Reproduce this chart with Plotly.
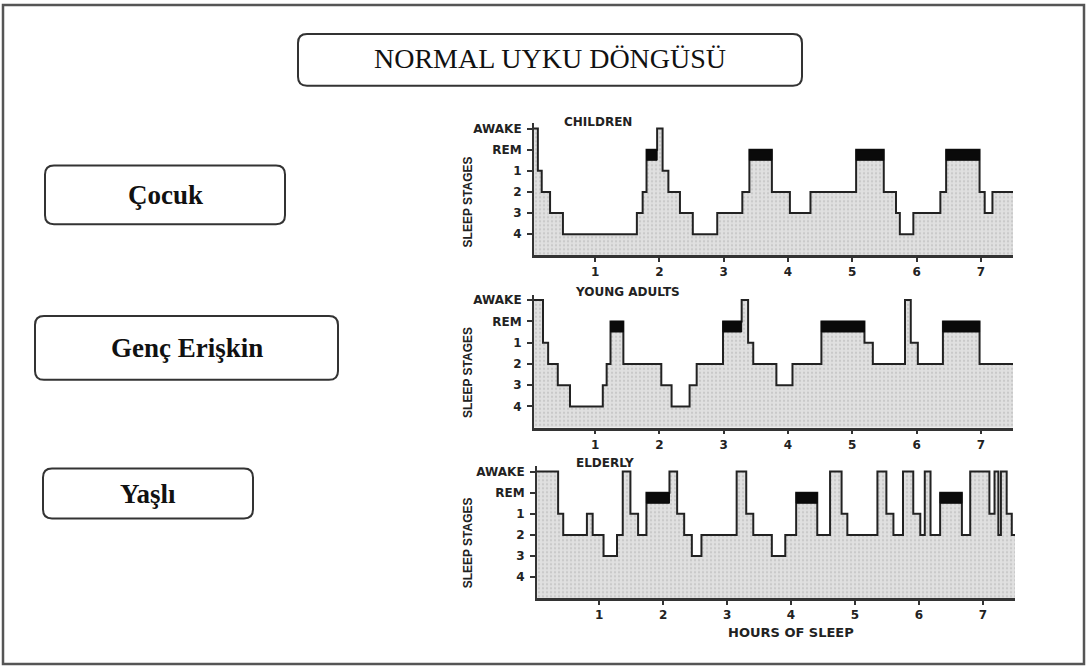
import plotly.graph_objects as go

W, H = 1087, 668

# ---------------- data ----------------
STAGE_LABELS = ["4", "3", "2", "1", "REM", "AWAKE"]      # bottom -> top
HOUR_TICKS = [1, 2, 3, 4, 5, 6, 7]

children_t = [0.05, 0.11, 0.17, 0.30, 0.50, 1.65, 1.74, 1.80, 1.965, 2.05, 2.14, 2.32, 2.52,
              2.90, 3.29, 3.40, 3.75, 4.03, 4.35, 5.06, 5.49, 5.68, 5.74, 5.95, 6.37, 6.46,
              6.98, 7.06, 7.18, 7.5]
children_stage = ["AWAKE", "1", "2", "3", "4", "3", "2", "REM", "AWAKE", "1", "2", "3", "4",
                  "3", "2", "REM", "2", "3", "2", "REM", "2", "3", "4", "3", "2", "REM",
                  "2", "3", "2"]

young_t = [0.05, 0.19, 0.27, 0.42, 0.61, 1.12, 1.18, 1.24, 1.44, 2.03, 2.19, 2.47, 2.58, 2.99,
           3.28, 3.38, 3.46, 3.82, 4.07, 4.52, 5.19, 5.32, 5.82, 5.91, 6.02, 6.41, 6.98, 7.5]
young_stage = ["AWAKE", "1", "2", "3", "4", "3", "2", "REM", "2", "3", "4", "3", "2", "REM",
               "AWAKE", "1", "2", "3", "2", "REM", "1", "2", "AWAKE", "1", "2", "REM", "2"]

elderly_t = [0.03, 0.36, 0.44, 0.81, 0.90, 1.07, 1.28, 1.37, 1.49, 1.61, 1.74, 2.10, 2.22,
             2.33, 2.45, 2.60, 3.15, 3.30, 3.41, 3.70, 3.91, 4.08, 4.41, 4.61, 4.79, 4.88,
             5.35, 5.49, 5.60, 5.75, 5.91, 6.02, 6.09, 6.18, 6.33, 6.67, 6.80, 7.10, 7.18,
             7.24, 7.28, 7.37, 7.45, 7.5]
elderly_stage = ["AWAKE", "1", "2", "1", "2", "3", "2", "AWAKE", "1", "2", "REM", "AWAKE", "1",
                 "2", "3", "2", "AWAKE", "1", "2", "3", "2", "REM", "2", "AWAKE", "1", "2",
                 "AWAKE", "1", "2", "AWAKE", "1", "2", "AWAKE", "2", "REM", "2", "AWAKE", "1",
                 "AWAKE", "2", "AWAKE", "1", "2"]

panel_titles = ["CHILDREN", "YOUNG ADULTS", "ELDERLY"]
group_labels = ["Çocuk", "Genç Erişkin", "Yaşlı"]
main_title = "NORMAL UYKU DÖNGÜSÜ"
x_title = "HOURS OF SLEEP"
y_title = "SLEEP STAGES"

# ---------------- layout geometry (pixels) ----------------
panels = [
    dict(t=children_t, s=children_stage, x0=534, x1=1013, top=127, bot=254, xr=[0.05, 7.5]),
    dict(t=young_t, s=young_stage, x0=534, x1=1013, top=299, bot=427, xr=[0.05, 7.5]),
    dict(t=elderly_t, s=elderly_stage, x0=537, x1=1015, top=471, bot=598, xr=[0.03, 7.5]),
]
level = {lab: i + 1 for i, lab in enumerate(STAGE_LABELS)}
YTOP = 6.25
REM_DEPTH = 0.5


def px(x):
    return x / W


def py(y):
    return 1 - y / H


fig = go.Figure()
ink = "#222222"
tickfont = dict(family="DejaVu Sans", size=12, color=ink, weight="bold")

for i, p in enumerate(panels):
    sfx = "" if i == 0 else str(i + 1)
    xa, ya = "x" + sfx, "y" + sfx
    ys = [level[s] for s in p["s"]]
    ys = ys + [ys[-1]]
    fig.add_trace(go.Scatter(
        x=p["t"], y=ys, mode="lines", line=dict(shape="hv", color=ink, width=2),
        fill="tozeroy", fillcolor="#dedede",
        fillpattern=dict(shape=".", bgcolor="#e0e0e0", fgcolor="#b0b0b0", size=4, solidity=0.25),
        xaxis=xa, yaxis=ya, showlegend=False, hoverinfo="skip"))
    # REM episodes taken from the stage sequence, drawn as black blocks
    bx, by = [], []
    top_v = level["REM"]
    low_v = level["REM"] - REM_DEPTH
    for k, s in enumerate(p["s"]):
        if s == "REM":
            a, b = p["t"][k], p["t"][k + 1]
            bx += [a, b, b, a, a, None]
            by += [top_v, top_v, low_v, low_v, top_v, None]
    fig.add_trace(go.Scatter(
        x=bx, y=by, mode="lines", fill="toself", fillcolor="#0a0a0a",
        line=dict(color="#0a0a0a", width=1), xaxis=xa, yaxis=ya,
        showlegend=False, hoverinfo="skip"))

    step = (p["bot"] - p["top"]) / 6.0
    dom_top = p["top"] - (YTOP - 6) * step
    fig.layout["xaxis" + sfx] = dict(
        domain=[px(p["x0"]), px(p["x1"])], range=p["xr"], anchor=ya,
        showline=True, linewidth=2.5, linecolor="#333", showgrid=False, zeroline=False,
        ticks="outside", ticklen=4, tickwidth=1.5, tickcolor="#333",
        tickvals=HOUR_TICKS, ticktext=[str(v) for v in HOUR_TICKS], tickfont=tickfont)
    fig.layout["yaxis" + sfx] = dict(
        domain=[py(p["bot"]), py(dom_top)], range=[0, YTOP], anchor=xa,
        showline=True, linewidth=2, linecolor="#333", showgrid=False, zeroline=False,
        ticks="outside", ticklen=5, tickwidth=1.5, tickcolor="#333",
        tickvals=list(range(1, 7)), ticktext=STAGE_LABELS, tickfont=tickfont,
        ticklabelstandoff=3)

# ---------------- text ----------------
ann = []


def add_text(x, y, text, font, angle=0):
    ann.append(dict(x=px(x), y=py(y), xref="paper", yref="paper", text=text, showarrow=False,
                    xanchor="center", yanchor="middle", textangle=angle, font=font))


title_pos = [(598, 120), (627, 291), (605, 462)]
for (x, y), t in zip(title_pos, panel_titles):
    add_text(x, y, t, dict(family="DejaVu Sans", size=12, color=ink, weight="bold"))
for y in [201, 372, 543]:
    add_text(468, y, y_title, dict(family="Liberation Sans", size=12, color=ink, weight="bold"),
             angle=-90)
add_text(791, 632, x_title, dict(family="DejaVu Sans", size=13, color=ink, weight="bold"))
add_text(550, 57, main_title, dict(family="Liberation Serif", size=28, color="#111"))
box_geo = [(45, 164, 285, 223), (35, 315, 338, 379), (43, 468, 253, 518)]
for (x0, y0, x1, y1), lab in zip(box_geo, group_labels):
    add_text((x0 + x1) / 2, (y0 + y1) / 2, lab,
             dict(family="Liberation Serif", size=27, color="#111", weight="bold"))


def rrect(x0, y0, x1, y1, r):
    def P(x, y):
        return f"{px(x):.5f} {py(y):.5f}"
    return (f"M {P(x0 + r, y0)} L {P(x1 - r, y0)} Q {P(x1, y0)} {P(x1, y0 + r)} "
            f"L {P(x1, y1 - r)} Q {P(x1, y1)} {P(x1 - r, y1)} L {P(x0 + r, y1)} "
            f"Q {P(x0, y1)} {P(x0, y1 - r)} L {P(x0, y0 + r)} Q {P(x0, y0)} {P(x0 + r, y0)} Z")


shapes = [dict(type="rect", xref="paper", yref="paper", x0=px(3), x1=px(1084), y0=py(664),
               y1=py(3), line=dict(color="#555", width=2.5))]
shapes.append(dict(type="path", xref="paper", yref="paper", path=rrect(298, 32, 802, 84, 9),
                   line=dict(color="#333", width=2)))
for (x0, y0, x1, y1) in box_geo:
    shapes.append(dict(type="path", xref="paper", yref="paper", path=rrect(x0, y0, x1, y1, 9),
                       line=dict(color="#333", width=2)))

fig.update_layout(width=W, height=H, margin=dict(l=0, r=0, t=0, b=0),
                  paper_bgcolor="white", plot_bgcolor="white",
                  annotations=ann, shapes=shapes, showlegend=False)
fig.write_html("out.html", config={"displayModeBar": False},
               post_script="document.body.style.margin='0';document.body.style.overflow='hidden';")
